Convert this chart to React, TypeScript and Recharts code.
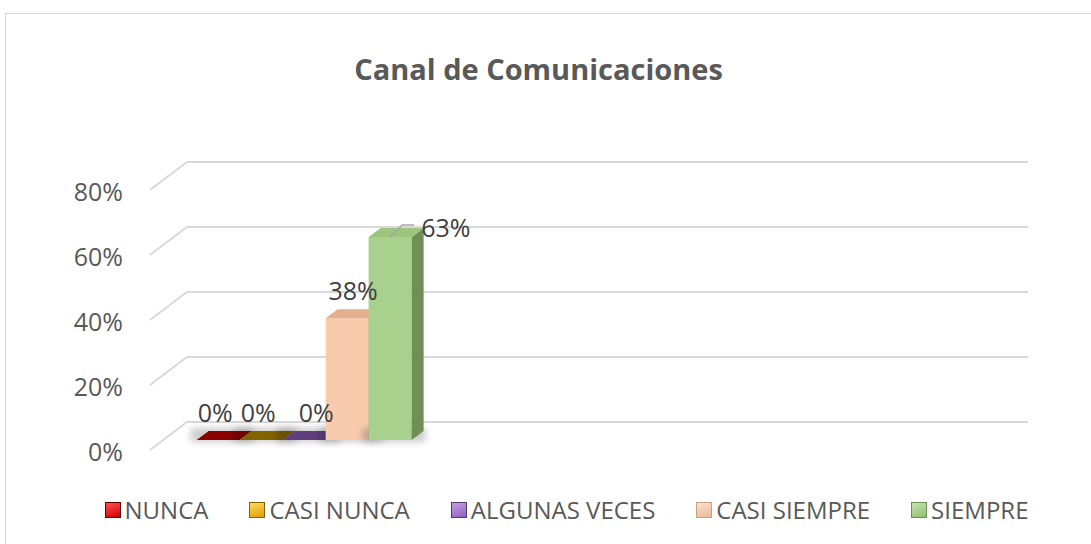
import React from "react";
import { BarChart, Bar, XAxis, YAxis, CartesianGrid, LabelList } from "recharts";

// only the first group carries answers, the other two slots stay empty
const categories = ["Canal de Comunicaciones", "", " "];
const seriesNames = ["NUNCA", "CASI NUNCA", "ALGUNAS VECES", "CASI SIEMPRE", "SIEMPRE"];
const nunca = [0, null, null];
const casiNunca = [0, null, null];
const algunasVeces = [0, null, null];
const casiSiempre = [0.375, null, null];
const siempre = [0.625, null, null];
const yTicks = [0, 0.2, 0.4, 0.6, 0.8];

const keys = ["nunca", "casiNunca", "algunasVeces", "casiSiempre", "siempre"];
const seriesValues = [nunca, casiNunca, algunasVeces, casiSiempre, siempre];

const data = categories.map((cat, i) => {
  const row: any = { cat };
  keys.forEach((k, s) => (row[k] = seriesValues[s][i]));
  return row;
});

const looks = [
  { front: "#c00000", side: "#600000", top: "#8a0000", icon: ["#ff5050", "#d00000"], labelDx: -3 },
  { front: "#ffc000", side: "#806000", top: "#826300", icon: ["#ffd860", "#e0a000"], labelDx: -3 },
  { front: "#a678d0", side: "#533c68", top: "#5f3f7c", icon: ["#c4a0e4", "#9060c0"], labelDx: 12 },
  { front: "#f8cbad", side: "#c9a083", top: "#e2b08e", icon: ["#fce0cc", "#e8b898"], labelDx: 6 },
  { front: "#a9d18e", side: "#6f8f57", top: "#9cc580", icon: ["#c6e4b0", "#8fbf70"], labelDx: 0 },
];

const DX = 12;
const DY = 9;
const pct = (v: number) => `${Math.round(v * 100)}%`;

function Bar3D(props: any) {
  const { x, y, width, height, value, s } = props;
  if (value == null) return null;
  const lk = looks[s];
  const h = Math.max(height || 0, 0);
  const base = y + h;
  return (
    <g>
      <rect x={x - 6} y={base - 12} width={width + DX + 8} height={14} fill="#000" opacity={0.2} filter="url(#soft)" />
      {h > 0 && <rect x={x} y={y} width={width} height={h} fill={lk.front} />}
      {h > 0 && (
        <polygon
          points={`${x + width},${y} ${x + width + DX},${y - DY} ${x + width + DX},${base - DY} ${x + width},${base}`}
          fill={lk.side}
        />
      )}
      <polygon
        points={`${x},${y} ${x + DX},${y - DY} ${x + width + DX},${y - DY} ${x + width},${y}`}
        fill={lk.top}
      />
    </g>
  );
}

function barLabel(p: any, s: number) {
  const { x, y, width, value } = p;
  if (value == null) return null;
  const cx = x + width / 2 + looks[s].labelDx;
  if (s === 4) {
    // Excel pushed this one aside with a leader line
    return (
      <g>
        <polyline
          points={`${cx},${y} ${cx + 12},${y - 12} ${cx + 24},${y - 12}`}
          fill="none"
          stroke="#a6a6a6"
          strokeWidth={1.5}
        />
        <text x={cx + 31} y={y - 10} dominantBaseline="central" fontSize={25} fill="#404040">
          {pct(value)}
        </text>
      </g>
    );
  }
  return (
    <text x={cx} y={y - 28} textAnchor="middle" dominantBaseline="central" fontSize={25} fill="#404040">
      {pct(value)}
    </text>
  );
}

function gridLine(p: any) {
  const { x1, x2, y1 } = p;
  return (
    <path
      key={`g-${y1}`}
      d={`M${x1 - 13},${y1 + 10} L${x1 + 24},${y1 - 18} L${x2 + 24},${y1 - 18}`}
      fill="none"
      stroke="#d9d9d9"
      strokeWidth={2}
    />
  );
}

function YTick(p: any) {
  const { x, y, payload } = p;
  return (
    <text x={x - 40} y={y + 11} textAnchor="end" dominantBaseline="central" fontSize={25} fill="#595959">
      {pct(payload.value)}
    </text>
  );
}

function LegendBox() {
  return (
    <div style={{ display: "flex", justifyContent: "center", gap: 41, marginLeft: 42 }}>
      {seriesNames.map((n, i) => (
        <div key={n} style={{ display: "flex", alignItems: "center", gap: 4 }}>
          <span
            style={{
              width: 16,
              height: 16,
              display: "inline-block",
              background: `linear-gradient(160deg, ${looks[i].icon[0]}, ${looks[i].icon[1]})`,
              border: `1px solid ${looks[i].side}`,
              boxSizing: "border-box",
            }}
          />
          <span style={{ fontSize: 24, color: "#595959", lineHeight: "28px" }}>{n}</span>
        </div>
      ))}
    </div>
  );
}

export default function App() {
  return (
    <div
      style={{
        position: "absolute",
        left: 0,
        top: 0,
        width: 1091,
        height: 544,
        overflow: "hidden",
        background: "#fff",
        fontFamily: "'Open Sans', sans-serif",
      }}
    >
      <div
        style={{
          position: "absolute",
          left: 5,
          top: 13,
          width: 1200,
          height: 600,
          border: "1px solid #d9d9d9",
        }}
      />
      <div
        style={{
          position: "absolute",
          left: 0,
          width: 1077,
          top: 49,
          textAlign: "center",
          fontSize: 29,
          fontWeight: 700,
          color: "#595959",
        }}
      >
        Canal de Comunicaciones
      </div>
      <div style={{ position: "absolute", left: 0, top: 0 }}>
        <BarChart
          width={1091}
          height={544}
          data={data}
          margin={{ top: 180, right: 87, bottom: 104, left: 0 }}
          barCategoryGap="12%"
          barGap={0}
        >
          <defs>
            <filter id="soft" x="-30%" y="-100%" width="160%" height="300%">
              <feGaussianBlur stdDeviation="3.5" />
            </filter>
          </defs>
          <CartesianGrid vertical={false} horizontal={gridLine} />
          <XAxis dataKey="cat" hide />
          <YAxis
            width={163}
            domain={[0, 0.8]}
            ticks={yTicks}
            axisLine={false}
            tickLine={false}
            tickSize={0}
            tickMargin={0}
            tick={<YTick />}
          />
          {keys.map((k, s) => (
            <Bar
              key={k}
              dataKey={k}
              name={seriesNames[s]}
              fill={looks[s].front}
              isAnimationActive={false}
              shape={(p: any) => <Bar3D {...p} s={s} />}
            >
              <LabelList dataKey={k} content={(p: any) => barLabel(p, s)} />
            </Bar>
          ))}
        </BarChart>
      </div>
      <div style={{ position: "absolute", left: 0, top: 496, width: 1091 }}>
        <LegendBox />
      </div>
    </div>
  );
}
